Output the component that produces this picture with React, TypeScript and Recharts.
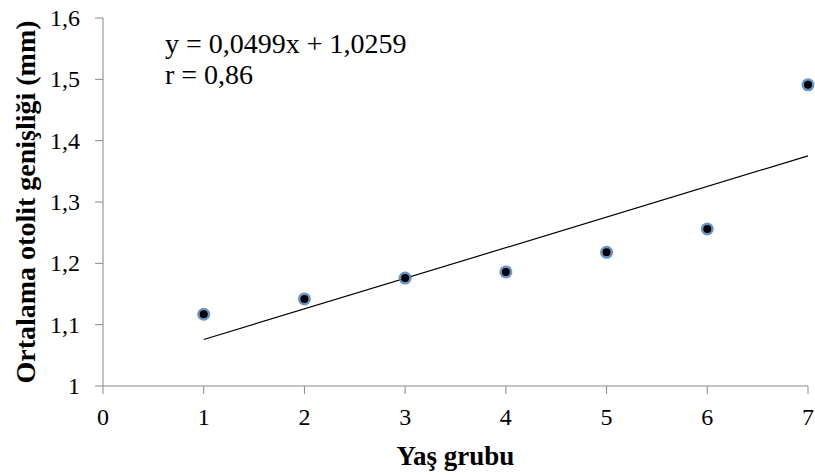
import React from "react";
import {
	ComposedChart,
	Scatter,
	XAxis,
	YAxis,
} from "recharts";

const ageGroups = [1, 2, 3, 4, 5, 6, 7];
const widthValues = [1.117, 1.142, 1.176, 1.186, 1.218, 1.256, 1.491];
const trendX = [1, 7];
const trendY = [1.0758, 1.3752];
const xTicks = [0, 1, 2, 3, 4, 5, 6, 7];
const yTicks = [1, 1.1, 1.2, 1.3, 1.4, 1.5, 1.6];

const points = ageGroups.map((x, i) => ({ x, y: widthValues[i] }));
const trend = trendX.map((x, i) => ({ x, y: trendY[i] }));

const FONT = "Times New Roman, Liberation Serif, serif";
const AXIS = "#898989";

const fmt = (v: number) => String(v).replace(".", ",");

function Dot(props: any) {
	const { cx, cy } = props;
	if (cx == null || cy == null) return null;
	return (
		<g>
			<circle cx={cx} cy={cy} r={6.5} fill="#4f81bd" opacity={0.85} />
			<circle cx={cx} cy={cy} r={4} fill="#000" />
		</g>
	);
}

function XTick(props: any) {
	const { x, y, payload } = props;
	return (
		<text x={x} y={y} dy="0.71em" textAnchor="middle" fontFamily={FONT} fontSize={24} fill="#000">
			{payload.value}
		</text>
	);
}

function YTick(props: any) {
	const { x, y, payload } = props;
	return (
		<text x={x} y={y} dy="0.33em" textAnchor="end" fontFamily={FONT} fontSize={24} fill="#000">
			{fmt(payload.value)}
		</text>
	);
}

export default function App() {
	return (
		<div style={{ position: "absolute", left: 0, top: 0, width: 815, height: 475, background: "#fff" }}>
			<ComposedChart
				width={815}
				height={475}
				margin={{ top: 18, right: 7, bottom: 0, left: 0 }}
			>
				<XAxis
					type="number"
					dataKey="x"
					domain={[0, 7]}
					ticks={xTicks}
					interval={0}
					height={89}
					stroke={AXIS}
					tickSize={8}
					tickMargin={14}
					tick={<XTick />}
					label={{
						value: "Yaş grubu",
						position: "insideBottom",
						offset: 10,
						style: { fontFamily: FONT, fontSize: 27, fontWeight: "bold", fill: "#000" },
					}}
				/>
				<YAxis
					type="number"
					dataKey="y"
					domain={[1, 1.6]}
					ticks={yTicks}
					interval={0}
					width={103}
					stroke={AXIS}
					tickSize={8}
					tickMargin={15}
					tick={<YTick />}
					label={{
						value: "Ortalama otolit genişliği  (mm)",
						angle: -90,
						position: "insideLeft",
						offset: 25,
						style: { fontFamily: FONT, fontSize: 28, fontWeight: "bold", fill: "#000", textAnchor: "middle", whiteSpace: "pre" },
					}}
				/>
				<Scatter
					data={trend}
					line={{ stroke: "#000", strokeWidth: 1.2 }}
					shape={() => null}
					isAnimationActive={false}
				/>
				<Scatter data={points} shape={<Dot />} isAnimationActive={false} />
			</ComposedChart>
			<div
				style={{
					position: "absolute",
					left: 165,
					top: 28,
					fontFamily: FONT,
					fontSize: 28,
					lineHeight: "31px",
					color: "#000",
				}}
			>
				<div>y = 0,0499x + 1,0259</div>
				<div>r = 0,86</div>
			</div>
		</div>
	);
}
